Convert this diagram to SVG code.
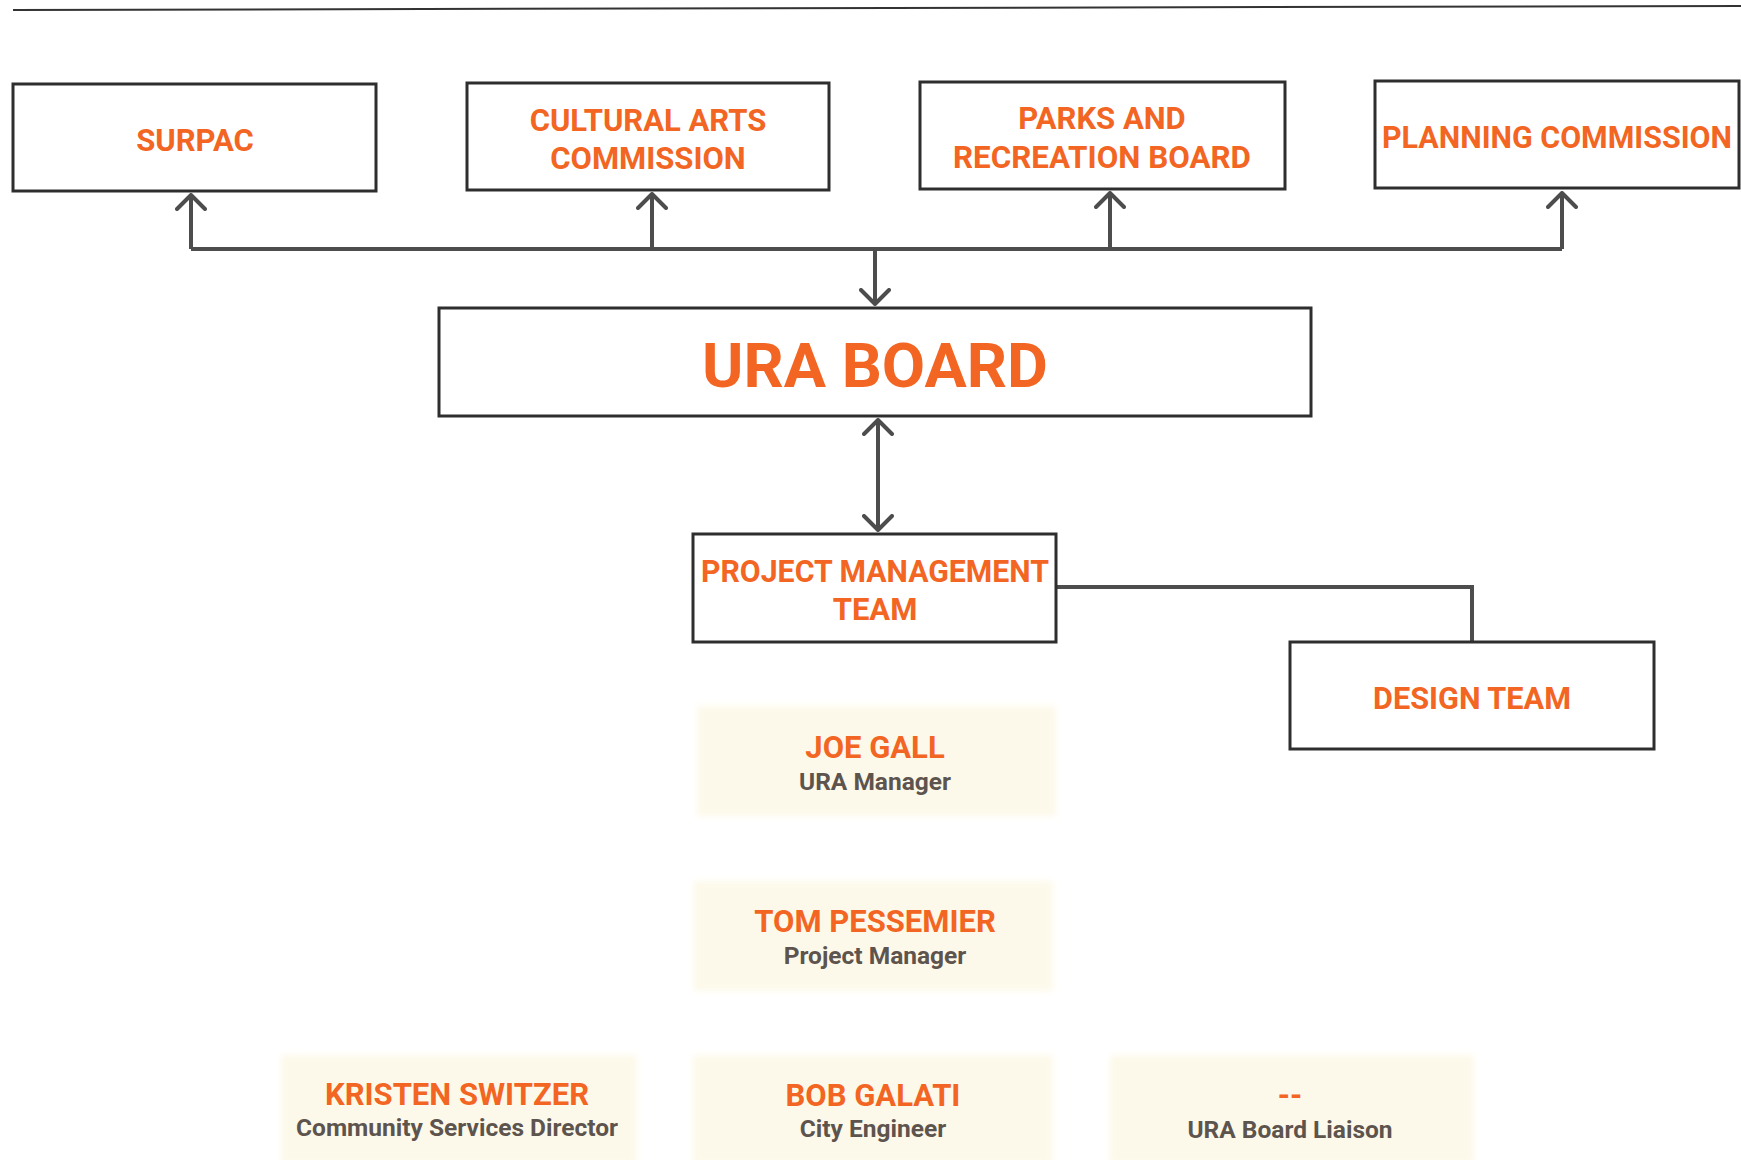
<svg xmlns="http://www.w3.org/2000/svg" width="1741" height="1160" viewBox="0 0 1741 1160">
  <style>
    .box { fill: #ffffff; stroke: #2e2e2e; stroke-width: 3; }
    .card { fill: #fdf9ea; filter: url(#soft); }
    .head { font-family: Roboto, "Liberation Sans", sans-serif; font-weight: 700; fill: #f26522; text-anchor: middle; }
    .sub { font-family: Roboto, "Liberation Sans", sans-serif; font-weight: 700; fill: #5e544e; text-anchor: middle; font-size: 24.5px; }
    .link { fill: none; stroke: #4d4d4d; stroke-width: 4; }
  </style>
  <defs>
    <filter id="soft" x="-5%" y="-10%" width="110%" height="120%">
      <feGaussianBlur stdDeviation="3"/>
    </filter>
    <marker id="chev" markerUnits="userSpaceOnUse" viewBox="-2 -2 18 32" markerWidth="18" markerHeight="32" refX="14" refY="14" orient="auto-start-reverse">
      <path d="M0,0 L14,14 L0,28" fill="none" stroke="#4d4d4d" stroke-width="4" stroke-linecap="round" stroke-linejoin="round"/>
    </marker>
  </defs>

  <rect width="1741" height="1160" fill="#ffffff"/>

  <!-- header rule -->
  <line x1="13" y1="10" x2="1741" y2="6" stroke="#333333" stroke-width="2"/>

  <!-- connectors -->
  <g id="connectors">
    <path class="link" d="M191,249 H1562"/>
    <path class="link" d="M191,249 V195" marker-end="url(#chev)"/>
    <path class="link" d="M652,249 V194" marker-end="url(#chev)"/>
    <path class="link" d="M1110,249 V193" marker-end="url(#chev)"/>
    <path class="link" d="M1562,249 V193" marker-end="url(#chev)"/>
    <path class="link" d="M875,249 V304" marker-end="url(#chev)"/>
    <path class="link" d="M878,420 V530" marker-start="url(#chev)" marker-end="url(#chev)"/>
    <path class="link" d="M1056,587 H1472 V642"/>
  </g>

  <!-- committee boxes -->
  <g id="surpac">
    <rect class="box" x="13" y="84" width="363" height="107"/>
    <text class="head" x="195" y="151" font-size="31">SURPAC</text>
  </g>
  <g id="cultural-arts">
    <rect class="box" x="467" y="83" width="362" height="107"/>
    <text class="head" x="648" y="131" font-size="31">CULTURAL ARTS</text>
    <text class="head" x="648" y="169" font-size="31">COMMISSION</text>
  </g>
  <g id="parks-rec">
    <rect class="box" x="920" y="82" width="365" height="107"/>
    <text class="head" x="1102" y="129" font-size="31">PARKS AND</text>
    <text class="head" x="1102" y="168" font-size="31" textLength="298" lengthAdjust="spacingAndGlyphs">RECREATION BOARD</text>
  </g>
  <g id="planning">
    <rect class="box" x="1375" y="81" width="364" height="107"/>
    <text class="head" x="1557" y="148" font-size="31" textLength="350" lengthAdjust="spacingAndGlyphs">PLANNING COMMISSION</text>
  </g>

  <!-- board -->
  <g id="ura-board">
    <rect class="box" x="439" y="308" width="872" height="108"/>
    <text class="head" x="875" y="387" font-size="62" textLength="346" lengthAdjust="spacingAndGlyphs">URA BOARD</text>
  </g>

  <!-- teams -->
  <g id="project-management">
    <rect class="box" x="693" y="534" width="363" height="108"/>
    <text class="head" x="875" y="582" font-size="31" textLength="348" lengthAdjust="spacingAndGlyphs">PROJECT MANAGEMENT</text>
    <text class="head" x="875" y="620" font-size="31">TEAM</text>
  </g>
  <g id="design-team">
    <rect class="box" x="1290" y="642" width="364" height="107"/>
    <text class="head" x="1472" y="709" font-size="31" textLength="198" lengthAdjust="spacingAndGlyphs">DESIGN TEAM</text>
  </g>

  <!-- staff cards -->
  <g id="joe-gall">
    <rect class="card" x="697" y="706" width="359" height="110"/>
    <text class="head" x="875" y="758" font-size="31">JOE GALL</text>
    <text class="sub" x="875" y="790">URA Manager</text>
  </g>
  <g id="tom-pessemier">
    <rect class="card" x="694" y="881" width="359" height="110"/>
    <text class="head" x="875" y="932" font-size="31">TOM PESSEMIER</text>
    <text class="sub" x="875" y="964">Project Manager</text>
  </g>
  <g id="kristen-switzer">
    <rect class="card" x="281" y="1055" width="356" height="110"/>
    <text class="head" x="457" y="1105" font-size="31">KRISTEN SWITZER</text>
    <text class="sub" x="457" y="1136">Community Services Director</text>
  </g>
  <g id="bob-galati">
    <rect class="card" x="693" y="1055" width="360" height="110"/>
    <text class="head" x="873" y="1106" font-size="31">BOB GALATI</text>
    <text class="sub" x="873" y="1137">City Engineer</text>
  </g>
  <g id="board-liaison">
    <rect class="card" x="1110" y="1055" width="364" height="110"/>
    <text class="head" x="1290" y="1106" font-size="31">--</text>
    <text class="sub" x="1290" y="1138">URA Board Liaison</text>
  </g>
</svg>
